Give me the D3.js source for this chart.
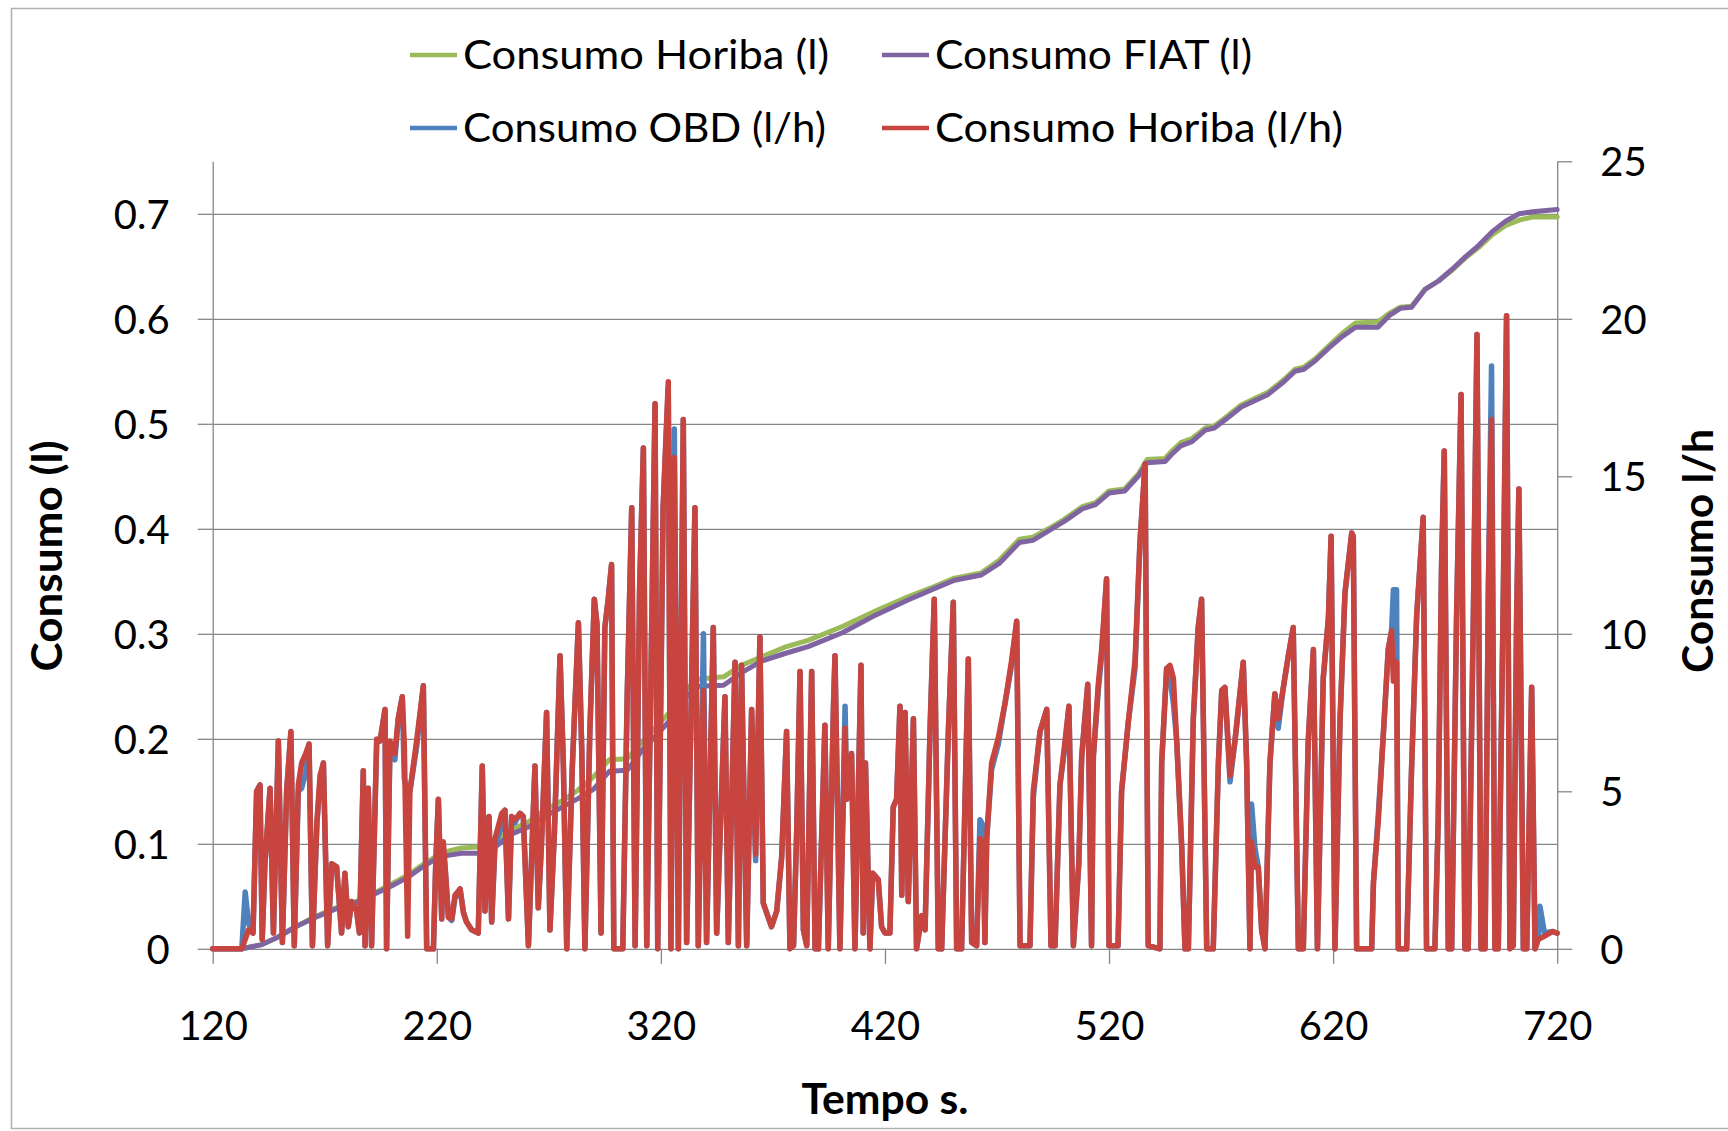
<!DOCTYPE html>
<html><head><meta charset="utf-8">
<script src="https://cdn.jsdelivr.net/npm/d3@7"></script>
<style>body{margin:0;background:#fff}svg{display:block}text{font-family:Lato,"Open Sans",sans-serif}</style>
</head><body><svg id="c" width="1728" height="1131"></svg>
<script>
// ---- data ----
const xTicks = [120,220,320,420,520,620,720];
const leftTicks = [0,0.1,0.2,0.3,0.4,0.5,0.6,0.7];
const rightTicks = [0,5,10,15,20,25];
const seriesNames = ["Consumo Horiba (l)","Consumo FIAT (l)","Consumo OBD (l/h)","Consumo Horiba (l/h)"];

// cumulative consumption, litres (left axis)
const horibaL = [[120,0],[133,0],[142,0.004],[149,0.011],[157,0.021],[166,0.031],[175,0.039],[184,0.045],[192,0.053],[200,0.062],[207,0.070],[213,0.079],[219,0.087],[225,0.093],[231,0.096],[238,0.097],[246,0.103],[253,0.113],[261,0.121],[268,0.132],[276,0.141],[283,0.151],[290,0.164],[297,0.180],[305,0.181],[312,0.198],[323,0.223],[330,0.245],[337,0.257],[348,0.259],[356,0.270],[365,0.278],[375,0.287],[386,0.294],[401,0.307],[416,0.322],[430,0.335],[442,0.345],[451,0.353],[463,0.358],[471,0.370],[480,0.390],[486,0.392],[493,0.400],[500,0.409],[508,0.421],[514,0.425],[520,0.436],[527,0.438],[533,0.452],[537,0.466],[545,0.467],[548,0.474],[552,0.482],[557,0.486],[563,0.496],[567,0.498],[572,0.506],[579,0.518],[585,0.524],[591,0.530],[598,0.542],[603,0.552],[607,0.554],[612,0.562],[618,0.574],[624,0.586],[630,0.596],[640,0.597],[645,0.605],[650,0.611],[655,0.612],[661,0.628],[667,0.636],[673,0.646],[679,0.658],[685,0.668],[691,0.680],[697,0.689],[703,0.694],[709,0.697],[720,0.697]];
const fiatL = [[120,0],[133,0],[142,0.004],[149,0.011],[157,0.021],[166,0.030],[175,0.038],[184,0.044],[192,0.052],[200,0.060],[207,0.068],[213,0.077],[219,0.085],[225,0.089],[231,0.091],[238,0.091],[246,0.097],[253,0.109],[261,0.116],[268,0.126],[276,0.135],[283,0.143],[290,0.152],[297,0.169],[305,0.170],[312,0.190],[323,0.215],[330,0.238],[337,0.250],[348,0.251],[356,0.263],[365,0.274],[375,0.281],[386,0.288],[401,0.301],[416,0.318],[430,0.332],[442,0.343],[451,0.351],[463,0.356],[471,0.367],[480,0.387],[486,0.389],[493,0.398],[500,0.407],[508,0.419],[514,0.423],[520,0.434],[527,0.436],[533,0.450],[537,0.463],[545,0.464],[548,0.471],[552,0.479],[557,0.483],[563,0.494],[567,0.496],[572,0.504],[579,0.516],[585,0.522],[591,0.528],[598,0.540],[603,0.550],[607,0.552],[612,0.560],[618,0.572],[624,0.583],[630,0.592],[640,0.592],[645,0.603],[650,0.610],[655,0.611],[661,0.628],[667,0.636],[673,0.647],[679,0.659],[685,0.670],[691,0.683],[697,0.693],[703,0.700],[709,0.702],[720,0.704]];

// instantaneous consumption, l/h (right axis)
const horibaLh = [[120,0],[133,0],[134.5,0.3],[136,0.6],[138,0.5],[139.6,5.0],[141.1,5.2],[142.1,0.3],[143.3,2.7],[145.6,5.1],[147.1,0.5],[149.3,6.6],[151.1,0.2],[153,5.0],[154.9,6.9],[156.4,0.1],[158.2,5.2],[159.7,5.9],[161.5,6.2],[163,6.5],[164.5,0.1],[166.5,4.0],[167.9,5.5],[169.4,5.9],[171.3,0.1],[173.1,2.7],[175.3,2.6],[177.5,0.5],[179,2.4],[180.5,0.7],[182,1.5],[184.2,1.2],[185.5,0.5],[187.2,5.65],[188,0.1],[189.4,5.1],[190.9,0.1],[193.2,6.65],[194.7,6.6],[196.9,7.6],[197.6,0],[199.1,6.6],[201.3,6.2],[202.8,7.3],[204.6,8.0],[205.5,6.5],[207,0.4],[208,5.0],[211,6.6],[214,8.35],[215.5,0],[218.5,0],[219.5,2.6],[220.7,4.75],[222.2,0.95],[222.9,3.4],[223.7,2.6],[225.2,1.0],[226.7,0.95],[228.1,1.7],[230.4,1.9],[231.9,1.15],[233.3,0.85],[235.6,0.6],[238.5,0.5],[240.3,5.8],[241.5,1.2],[243.3,4.2],[244.5,0.85],[246,3.5],[249,4.3],[250.4,4.4],[252,0.95],[253.4,4.2],[254.9,4.1],[257.1,4.3],[258.6,4.2],[260.9,0.1],[263.8,5.8],[265.3,1.3],[266.7,3.3],[269,7.5],[270.5,0.6],[272.5,3.7],[275,9.3],[276.5,5.8],[278,0],[280.5,5.8],[283.2,10.35],[284.7,6.3],[286.1,0],[288.3,6.9],[290.3,11.1],[291.5,10.3],[293.3,0.5],[295,10.2],[296.5,11.1],[298,12.2],[299,0],[303,0],[305,8.1],[307,14.0],[308.5,0.1],[310.5,11.4],[312.2,15.9],[313.7,0.1],[315.9,10.2],[317.4,17.3],[318.6,0],[321,14.0],[323.3,18.0],[324.5,0],[326,15.6],[327.8,0],[330,16.8],[331.5,0.2],[335.2,14.0],[336.7,0.1],[339,8.2],[340.4,0.2],[343.4,10.2],[344.9,0.5],[348.6,8.0],[350.1,0.2],[353.1,9.1],[354.6,0.1],[356,9.0],[358.3,0.1],[360.5,7.6],[362.3,3.0],[364.2,9.9],[365.7,1.45],[367.9,1.0],[369.4,0.7],[371.7,1.2],[373.9,2.9],[376.1,6.9],[377.6,0],[379.2,0.1],[380.6,3.7],[382.1,8.8],[383.6,0.6],[385.1,0.1],[387.3,8.8],[388.8,0],[390.3,0],[393.2,7.1],[394.7,0],[397,7.6],[397.7,9.3],[399.9,0],[402.2,7.0],[403,4.75],[405.1,6.2],[406.6,0],[409.3,9.0],[410.3,0.5],[411.3,5.9],[413.3,0],[414.5,2.4],[417,2.2],[418.5,0.7],[420,0.5],[422.2,0.5],[423.7,4.5],[425.2,4.75],[426.7,7.7],[427.5,1.7],[429,7.5],[430.4,1.5],[432.7,7.3],[434.1,0],[436.4,1.05],[437.9,0.6],[440.1,6.9],[442,11.1],[443.8,0],[445.3,0],[448.3,6.9],[450.5,11.0],[452,0],[454.2,0],[457.2,9.2],[458.7,0.2],[460.9,0.1],[462.4,3.5],[463.9,3.3],[464.6,0.2],[465.4,3.5],[467.6,5.9],[470.6,6.7],[473.6,7.8],[476.5,9.15],[478.8,10.4],[480.3,0.1],[484.7,0.1],[486.2,5.0],[489.2,6.9],[492.2,7.6],[494.1,0.1],[495.9,0.1],[498.1,5.2],[500.3,6.55],[502.1,7.7],[504.1,0.1],[506.5,2.7],[507.8,6.1],[510.5,8.4],[512.2,0.1],[513,6.1],[515.2,8.4],[516.7,9.5],[518.9,11.75],[520,0.1],[524,0.1],[525.6,5.0],[528.6,7.2],[531.6,9.15],[533.8,12.9],[536.1,15.4],[537.5,0.1],[542.7,0],[543.5,5.9],[545.7,8.9],[547.2,9.0],[548.7,8.6],[550.2,6.6],[552.4,3.3],[553.9,0],[555.4,0],[557.6,7.3],[559.8,10.2],[561.3,11.1],[563.6,0],[566.5,0],[568.8,5.9],[570.3,8.2],[571.7,8.3],[574,5.5],[576.2,6.6],[579.9,9.1],[581.4,5.9],[582.9,0],[583.6,3.4],[585.1,2.6],[586.6,2.6],[588.1,0.6],[589.6,0],[591.8,5.9],[594,8.1],[595.5,7.3],[597.8,8.3],[600,9.3],[602.2,10.2],[604.5,0],[606.7,0],[608.9,6.6],[611.2,9.5],[613,0],[615.6,8.6],[617.9,10.5],[619.1,13.1],[620.8,0],[623.1,7.3],[625.3,11.3],[628.3,13.2],[629,13.1],[630.5,0],[637.2,0],[638,2.1],[640.2,4.1],[642.4,6.8],[644.6,9.5],[646.1,10.1],[646.9,8.5],[648.3,9.1],[649.1,0],[652.8,0],[655,5.7],[657.3,10.6],[660.2,13.7],[661.7,0],[665.4,0],[666.9,4.1],[668.4,12.2],[669.6,15.8],[671.4,0],[672.9,0],[675.1,10.6],[677.1,17.6],[678.8,0],[680.3,0],[682.6,10.6],[684.2,19.5],[686,0],[687.8,0],[689.3,11.5],[690.7,16.8],[692.2,0],[693.7,0],[696,11.5],[697.4,20.1],[698.9,0],[700.4,0.1],[701.9,10.6],[702.9,14.6],[704.9,0],[706.4,0],[708.6,8.3],[710.1,0],[711.5,0.3],[714.3,0.4],[718,0.55],[720,0.5]];
const obdLh = [[120,0],[133,0],[134.5,1.8],[136,0.8],[138,0.5],[139.6,5.0],[141.1,5.2],[142.1,0.3],[143.3,2.7],[145.6,5.1],[147.1,0.5],[149.3,6.6],[151.1,0.2],[153,5.0],[154.9,6.9],[156.4,0.1],[158.2,5.0],[159.7,5.1],[161.5,5.6],[163,6.5],[164.5,0.1],[166.5,4.0],[167.9,5.3],[169.4,5.9],[171.3,0.1],[173.1,2.7],[175.3,2.6],[177.5,0.5],[179,2.4],[180.5,0.7],[182,1.5],[184.2,1.2],[185.5,0.5],[187.2,5.65],[188,0.1],[189.4,5.1],[190.9,0.1],[193.2,6.65],[194.7,6.6],[196.9,7.6],[197.6,0],[199.1,6.4],[201.3,6.0],[202.8,7.3],[204.6,8.0],[205.5,5.4],[207,4.9],[208,5.0],[211,6.4],[214,8.35],[215.5,0],[218.5,0],[219.5,2.6],[220.7,4.75],[222.2,0.95],[222.9,3.2],[223.7,2.6],[225.2,1.0],[226.7,0.9],[228.1,1.6],[230.4,1.9],[231.9,1.15],[233.3,0.85],[235.6,0.6],[238.5,0.5],[240.3,5.8],[241.5,1.2],[243.3,4.2],[244.5,0.85],[246,3.3],[249,3.9],[250.4,4.4],[252,0.95],[253.4,4.2],[254.9,4.0],[257.1,4.3],[258.6,4.2],[260.9,0.1],[263.8,5.8],[265.3,1.3],[266.7,3.3],[269,7.5],[270.5,0.6],[272.5,3.7],[275,9.3],[276.5,5.8],[278,0],[280.5,5.8],[283.2,10.35],[284.7,6.3],[286.1,0],[288.3,6.9],[290.3,11.1],[291.5,10.3],[293.3,0.5],[295,10.2],[296.5,11.1],[298,12.2],[299,0],[303,0],[305,8.1],[307,14.0],[308.5,0.1],[310.5,11.4],[312.2,15.9],[313.7,0.1],[315.9,10.2],[317.4,17.3],[318.6,0],[321,14.0],[323.3,17.8],[324.5,0],[326,16.5],[327.8,0],[330,16.8],[331.5,0.2],[335.2,14.0],[336.7,0.1],[339,10.0],[340.4,0.2],[343.4,10.2],[344.9,0.5],[348.6,8.0],[350.1,0.2],[353.1,9.1],[354.6,0.1],[356,9.0],[358.3,0.1],[360.5,7.6],[362.3,2.8],[364.2,9.9],[365.7,1.45],[367.9,1.0],[369.4,0.7],[371.7,1.2],[373.9,2.9],[376.1,6.9],[377.6,0],[379.2,0.1],[380.6,3.7],[382.1,8.8],[383.6,0.6],[385.1,0.1],[387.3,8.8],[388.8,0],[390.3,0],[393.2,7.1],[394.7,0],[397,7.6],[397.7,9.3],[399.9,0],[402.2,7.7],[403,4.75],[405.1,6.2],[406.6,0],[409.3,9.0],[410.3,0.5],[411.3,5.9],[413.3,0],[414.5,2.4],[417,2.2],[418.5,0.7],[420,0.5],[422.2,0.5],[423.7,4.5],[425.2,4.75],[426.7,7.7],[427.5,1.7],[429,7.5],[430.4,1.5],[432.7,7.3],[434.1,0],[436.4,1.05],[437.9,0.6],[440.1,6.9],[442,11.1],[443.8,0],[445.3,0],[448.3,6.9],[450.5,11.0],[452,0],[454.2,0],[457.2,9.2],[458.7,0.2],[460.9,0.1],[462.4,4.1],[463.9,3.9],[464.6,0.2],[465.4,3.5],[467.6,5.7],[470.6,6.5],[473.6,7.8],[476.5,9.0],[478.8,10.4],[480.3,0.1],[484.7,0.1],[486.2,4.8],[489.2,6.9],[492.2,7.6],[494.1,0.1],[495.9,0.1],[498.1,5.2],[500.3,6.4],[502.1,7.7],[504.1,0.1],[506.5,2.7],[507.8,6.1],[510.5,8.4],[512.2,0.1],[513,6.1],[515.2,8.2],[516.7,9.3],[518.9,11.75],[520,0.1],[524,0.1],[525.6,5.0],[528.6,7.2],[531.6,8.9],[533.8,12.9],[536.1,15.4],[537.5,0.1],[542.7,0],[543.5,5.9],[545.7,8.9],[547.2,8.6],[548.7,7.8],[550.2,6.6],[552.4,3.3],[553.9,0],[555.4,0],[557.6,7.3],[559.8,10.2],[561.3,11.1],[563.6,0],[566.5,0],[568.8,5.9],[570.3,8.2],[571.7,8.3],[574,5.3],[576.2,6.6],[579.9,9.1],[581.4,5.9],[582.9,0],[583.6,4.6],[585.1,3.2],[586.6,2.6],[588.1,0.6],[589.6,0],[591.8,5.9],[594,8.1],[595.5,7.0],[597.8,8.3],[600,9.3],[602.2,10.2],[604.5,0],[606.7,0],[608.9,6.6],[611.2,9.5],[613,0],[615.6,8.6],[617.9,10.5],[619.1,13.1],[620.8,0],[623.1,7.3],[625.3,11.3],[628.3,13.2],[629,13.1],[630.5,0],[637.2,0],[638,2.1],[640.2,4.3],[642.4,6.8],[644.6,9.5],[646.1,10.1],[646.9,11.4],[648.3,11.4],[649.1,0],[652.8,0],[655,5.7],[657.3,10.6],[660.2,13.7],[661.7,0],[665.4,0],[666.9,4.1],[668.4,12.2],[669.6,15.8],[671.4,0],[672.9,0],[675.1,10.6],[677.1,17.6],[678.8,0],[680.3,0],[682.6,10.6],[684.2,19.5],[686,0],[687.8,0],[689.3,11.5],[690.7,18.5],[692.2,0],[693.7,0],[696,11.5],[697.4,20.1],[698.9,0],[700.4,0.1],[701.9,10.6],[702.9,14.6],[704.9,0],[706.4,0],[708.6,8.3],[710.1,0],[711.5,0.3],[712.3,1.35],[714.3,0.5],[718,0.55],[720,0.5]];

// ---- drawing ----
const svg = d3.select("#c");
const L = 212.7, R = 1557.2, T = 161.3, B = 948.8;
const x = d3.scaleLinear().domain([120,720]).range([L,R]);
const yL = d3.scaleLinear().domain([0,0.75]).range([B,T]);
const yR = d3.scaleLinear().domain([0,25]).range([B,T]);
const gridCol = "#868686";
const colors = ["#9BBB59","#8064A2","#4F81BD","#C8453F"];
const widths = [5,5,5.5,5.5];

// chart border
svg.append("rect").attr("x",11.5).attr("y",8.5).attr("width",1740).attr("height",1120)
  .attr("fill","none").attr("stroke","#b0b0b0").attr("stroke-width",1.5);

// gridlines
svg.append("g").attr("transform",`translate(${L},0)`)
  .call(d3.axisLeft(yL).tickValues(leftTicks.slice(1)).tickSize(-(R-L)).tickFormat(""))
  .call(g=>{g.select(".domain").remove();g.selectAll("line").attr("stroke",gridCol).attr("stroke-width",1.3);});

function styleAxis(g){
  g.select(".domain").attr("stroke",gridCol).attr("stroke-width",1.3);
  g.selectAll(".tick line").attr("stroke",gridCol).attr("stroke-width",1.3);
  g.selectAll("text").attr("fill","#000").style("font-size","40px").style("font-family","Lato, 'Open Sans', sans-serif");
}
// left axis
svg.append("g").attr("transform",`translate(${L},0)`)
  .call(d3.axisLeft(yL).tickValues(leftTicks).tickSize(15).tickSizeOuter(0)
    .tickFormat(d=>d===0?"0":d3.format(".1f")(d)))
  .call(styleAxis)
  .call(g=>g.selectAll("text").attr("x",-43).attr("dy","0.36em"));
// right axis
svg.append("g").attr("transform",`translate(${R},0)`)
  .call(d3.axisRight(yR).tickValues(rightTicks).tickSize(15).tickSizeOuter(0).tickFormat(d3.format("d")))
  .call(styleAxis)
  .call(g=>g.selectAll("text").attr("x",43).attr("dy","0.36em"));
// bottom axis
svg.append("g").attr("transform",`translate(0,${B})`)
  .call(d3.axisBottom(x).tickValues(xTicks).tickSize(15).tickSizeOuter(0).tickFormat(d3.format("d")))
  .call(styleAxis)
  .call(g=>g.selectAll("text").attr("y",77).attr("dy","0.36em"));

// lines
const lineL = d3.line().x(d=>x(d[0])).y(d=>yL(d[1]));
const lineR = d3.line().x(d=>x(d[0])).y(d=>yR(d[1]));
const plots = [[horibaL,lineL],[fiatL,lineL],[obdLh,lineR],[horibaLh,lineR]];
plots.forEach(([data,gen],i)=>{
  svg.append("path").datum(data).attr("d",gen).attr("fill","none")
    .attr("stroke",colors[i]).attr("stroke-width",widths[i])
    .attr("stroke-linejoin","round").attr("stroke-linecap","round");
});

// legend
const legPos = [[410,55,366],[882,55,317],[410,128,363],[882,128,408]];
seriesNames.forEach((n,i)=>{
  const [lx,ly,tl] = legPos[i];
  svg.append("line").attr("x1",lx).attr("x2",lx+47).attr("y1",ly).attr("y2",ly)
    .attr("stroke",colors[i]).attr("stroke-width",4.5);
  svg.append("text").attr("x",lx+53).attr("y",ly).attr("dy","0.36em")
    .style("font-size","40px").attr("textLength",tl).attr("lengthAdjust","spacingAndGlyphs").text(n);
});

// axis titles
svg.append("text").attr("transform","translate(47,556) rotate(-90)").attr("text-anchor","middle")
  .attr("dy","0.36em").style("font-size","42px").style("font-weight","bold")
  .attr("textLength",231).attr("lengthAdjust","spacingAndGlyphs").text("Consumo (l)");
svg.append("text").attr("transform","translate(1698,551) rotate(-90)").attr("text-anchor","middle")
  .attr("dy","0.36em").style("font-size","42px").style("font-weight","bold")
  .attr("textLength",244).attr("lengthAdjust","spacingAndGlyphs").text("Consumo l/h");
svg.append("text").attr("x",885).attr("y",1099).attr("text-anchor","middle")
  .attr("dy","0.36em").style("font-size","42px").style("font-weight","bold")
  .attr("textLength",167).attr("lengthAdjust","spacingAndGlyphs").text("Tempo s.");
</script></body></html>
